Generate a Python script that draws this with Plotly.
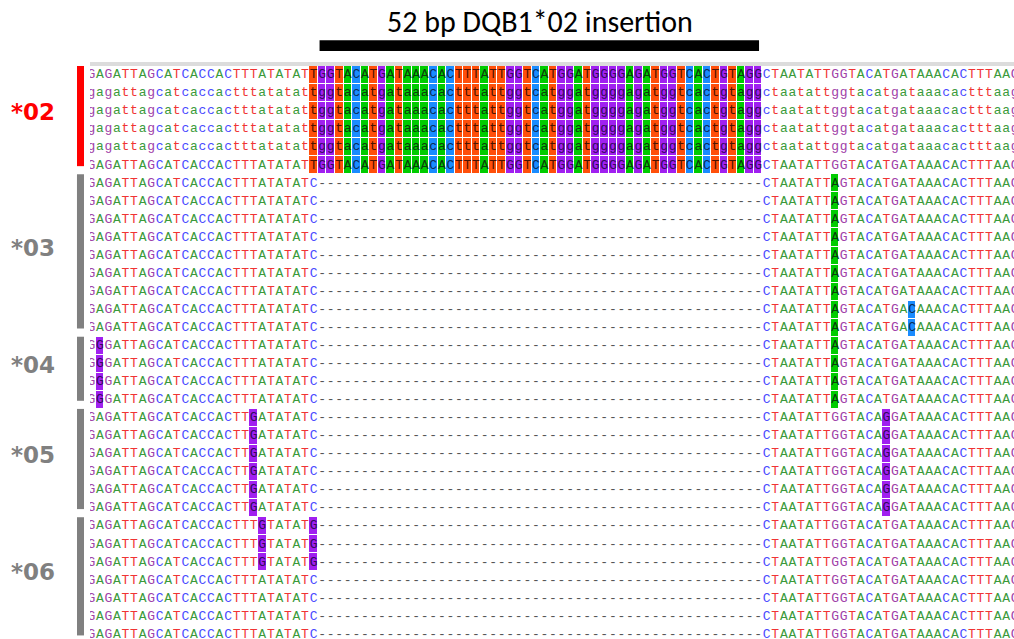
import plotly.graph_objects as go

# ---------------- data ----------------
GROUPS = ["*02", "*03", "*04", "*05", "*06"]
GROUP_COLORS = ["#ff0000", "#808080", "#808080", "#808080", "#808080"]
GROUP_ROWS = [6, 9, 4, 6, 7]

INSERTION_LABEL = "52 bp DQB1*02 insertion"
INSERTION_COLS = [28, 79]

REFERENCE = "GAGATTAGCATCACCACTTTATATATC" + "-" * 52 + "CTAATATTGGTACATGATAAACACTTTAAG"
ALLELE_02 = ("GAGATTAGCATCACCACTTTATATAT"
             "TGGTACATGATAAACACTTTATTGGTCATGGATGGGGAGATGGTCACTGTAGG"
             "CTAATATTGGTACATGATAAACACTTTAAG")
ALLELE_03 = "GAGATTAGCATCACCACTTTATATATC" + "-" * 52 + "CTAATATTAGTACATGATAAACACTTTAAG"
ALLELE_03B = "GAGATTAGCATCACCACTTTATATATC" + "-" * 52 + "CTAATATTAGTACATGACAAACACTTTAAG"
ALLELE_04 = "GGGATTAGCATCACCACTTTATATATC" + "-" * 52 + "CTAATATTAGTACATGATAAACACTTTAAG"
ALLELE_05 = "GAGATTAGCATCACCACTTGATATATC" + "-" * 52 + "CTAATATTGGTACAGGATAAACACTTTAAG"
ALLELE_06A = "GAGATTAGCATCACCACTTTGTATATG" + "-" * 52 + "CTAATATTGGTACATGATAAACACTTTAAG"
ALLELE_06B = REFERENCE

ROW_SEQS = ([ALLELE_02] * 6 + [ALLELE_03] * 7 + [ALLELE_03B] * 2 + [ALLELE_04] * 4
            + [ALLELE_05] * 6 + [ALLELE_06A] * 3 + [ALLELE_06B] * 4)
ROW_LOWER = [False, True, True, True, True, False] + [False] * 26

# ---------------- styles ----------------
BASES = "ACGT"
CELL_COLORS = {"A": "#00cc00", "C": "#1a8cff", "G": "#a020f0", "T": "#ff4f0a"}
TEXT_COLORS = {"A": "#3a9a3a", "C": "#4a4aff", "G": "#a040a8", "T": "#f03434"}
DARK_COLORS = {"A": "#0b3d0b", "C": "#0b2a55", "G": "#32085a", "T": "#4a1200"}
DASH_COLOR = "#555555"

n_rows = len(ROW_SEQS)
n_cols = len(REFERENCE)
cols = list(range(1, n_cols + 1))
rows = list(range(n_rows))

# highlighted cells = differ from reference
z = []
for seq in ROW_SEQS:
    zr = []
    for c, ch in enumerate(seq):
        u = ch.upper()
        if ch != "-" and u != REFERENCE[c]:
            zr.append(BASES.index(u))
        else:
            zr.append(None)
    z.append(zr)

tx, ty, tt, tc = [], [], [], []
for r, seq in enumerate(ROW_SEQS):
    for c, ch in enumerate(seq):
        tx.append(c + 1)
        ty.append(r)
        letter = ch.lower() if ROW_LOWER[r] else ch
        tt.append(letter)
        if ch == "-":
            tc.append(DASH_COLOR)
        elif z[r][c] is not None:
            tc.append(DARK_COLORS[ch])
        else:
            tc.append(TEXT_COLORS[ch])

cs = []
for i, b in enumerate(BASES):
    cs.append([i / 4, CELL_COLORS[b]])
    cs.append([(i + 1) / 4, CELL_COLORS[b]])

fig = go.Figure()
fig.add_trace(go.Heatmap(
    x=cols, y=rows, z=z, zmin=-0.5, zmax=3.5, colorscale=cs, showscale=False,
    xgap=1, ygap=1, hoverinfo="skip"))
fig.add_trace(go.Scatter(
    x=tx, y=ty, text=tt, mode="text", textposition="middle center",
    textfont=dict(family="Liberation Mono, DejaVu Sans Mono, monospace", size=13, color=tc),
    hoverinfo="skip", showlegend=False))

# group bars and labels
start = 0
for g, nr, col in zip(GROUPS, GROUP_ROWS, GROUP_COLORS):
    first, last = start, start + nr - 1
    fig.add_shape(type="rect", xref="paper", yref="y",
                  x0=-0.0141, x1=-0.0065, y0=first - 0.5, y1=last + 0.05,
                  fillcolor=col, line=dict(width=0), layer="above")
    fig.add_annotation(x=-0.062, xref="paper", xanchor="center",
                       y=(first + last) / 2, yref="y", yanchor="middle",
                       text="<b>%s</b>" % g, showarrow=False, yshift=8,
                       font=dict(family="DejaVu Sans", size=23, color=col))
    start += nr

# insertion bar and label
fig.add_shape(type="rect", xref="x", yref="paper",
              x0=INSERTION_COLS[0] - 0.3, x1=INSERTION_COLS[1] + 0.1,
              y0=1.026, y1=1.045, fillcolor="#000000", line=dict(width=0))
fig.add_annotation(x=(INSERTION_COLS[0] + INSERTION_COLS[1]) / 2, xref="x",
                   y=1.078, yref="paper", yanchor="middle", text=INSERTION_LABEL,
                   showarrow=False,
                   font=dict(family="Liberation Sans Narrow, Carlito, Open Sans", size=30, color="#000"))

fig.update_layout(
    width=1014, height=639, autosize=False,
    margin=dict(l=90, r=0, t=66, b=0, pad=0),
    paper_bgcolor="white", plot_bgcolor="white",
    xaxis=dict(range=[0.851, 108.92], side="top", showline=True, linecolor="#dcdcdc",
               linewidth=4, showgrid=False, zeroline=False, showticklabels=False,
               ticks=""),
    yaxis=dict(range=[31.247, -0.4986], showgrid=False, zeroline=False,
               showticklabels=False, ticks="", showline=False),
    showlegend=False,
)

fig.write_html("out.html", config={"displayModeBar": False},
               post_script="document.body.style.margin='0';")
